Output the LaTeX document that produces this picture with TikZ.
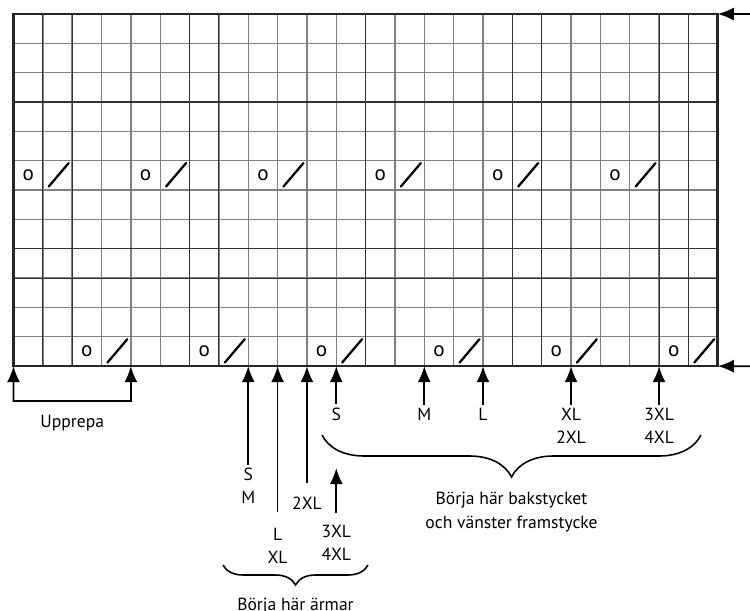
\documentclass[tikz,border=0pt]{standalone}
\usepackage{fontspec}
\setmainfont{PT Sans}
\usetikzlibrary{arrows.meta, positioning, decorations.pathreplacing}
\tikzstyle{gridline} = [line width=0.8pt, draw=black!50]
\tikzstyle{darkline} = [line width=0.65pt, draw=black!80]
\tikzstyle{frame} = [line width=1.5pt, draw=black!85]
\tikzstyle{yarnover} = [inner sep=0pt, font=\fontsize{12}{12}\selectfont]
\tikzstyle{decrease} = [line width=1.3pt, line cap=round]
\tikzstyle{sizelabel} = [align=center, inner sep=2pt, font=\fontsize{10}{13}\selectfont]
\tikzstyle{note} = [align=center, inner sep=2pt, anchor=north, font=\fontsize{10}{13.5}\selectfont]
\tikzstyle{arrow} = [line width=1pt, ->, >={Latex[length=3.2mm, width=2.6mm]}]
\tikzstyle{bracket} = [line width=0.9pt, decorate, decoration={brace, amplitude=#1}]

\begin{document}
\begin{tikzpicture}[x=0.02cm, y=-0.02cm]
    \useasboundingbox (0,0) rectangle (750,611);

    % chart, in cell units
    \begin{scope}[shift={(13.5,14)}, x=0.587cm, y=-0.587cm]
        \foreach \k in {1,...,23}
            \draw[gridline] (\k,0) -- (\k,12);
        \foreach \k in {1,...,11}
            \draw[gridline] (0,\k) -- (24,\k);
        \foreach \k in {1,2,6,7,12,17,18,22,23}
            \draw[darkline] (\k,0) -- (\k,12);
        \foreach \k in {3,8,9}
            \draw[darkline] (0,\k) -- (24,\k);
        \draw[frame] (0,0) rectangle (24,12);

        \foreach \k in {0,...,5} {
            \node (yo5-\k) [yarnover] at ({4*\k+0.5},5.5) {o};
            \draw[decrease] ({4*\k+1.2},5.88) -- ({4*\k+1.88},5.08);
            \node (yo11-\k) [yarnover] at ({4*\k+2.5},11.5) {o};
            \draw[decrease] ({4*\k+3.2},11.88) -- ({4*\k+3.88},11.08);
        }

        \foreach \k in {0,...,24}
            \coordinate (b\k) at (\k,12);
        \coordinate (topright) at (24,0);
    \end{scope}

    % rows marked on the right
    \coordinate (rtop) at (752,14);
    \coordinate (rbot) at (752,366.2);
    \draw[arrow] (rtop) -- (topright);
    \draw[arrow] (rbot) -- (b24);

    % repeat
    \coordinate (u0) at (13.5,401);
    \coordinate (u4) at (130.9,401);
    \draw[arrow, <->] (b0) -- (u0) -- (u4) -- (b4);
    \node (upprepa) [note] at (72.2,411) {Upprepa};

    % sleeves
    \node (slSM) [sizelabel, below=1.97cm of b8] {S\\M};
    \node (slLXL) [sizelabel, below=3.17cm of b9] {L\\XL};
    \node (sl2XL) [sizelabel, below=2.55cm of b10] {2XL};
    \node (sl3XL) [sizelabel, below=3.11cm of b11] {3XL\\4XL};
    \coordinate (sl3XLtip) at ([yshift=-2.04cm]b11);
    \draw[arrow] (slSM) -- (b8);
    \draw[arrow, shorten <=0.25cm] (slLXL) -- (b9);
    \draw[arrow, shorten <=0.21cm] (sl2XL) -- (b10);
    \draw[arrow, shorten <=0.17cm] (sl3XL) -- (sl3XLtip);
    \draw[bracket=0.4cm] (368,565) -- (223,565);
    \node (armar) [note] at (295.5,594.5) {Börja här ärmar};

    % back and left front
    \node (bkS) [sizelabel, below=0.75cm of b11] {S};
    \node (bkM) [sizelabel, below=0.77cm of b14] {M};
    \node (bkL) [sizelabel, below=0.77cm of b16] {L};
    \node (bkXL) [sizelabel, below=0.77cm of b19] {XL\\2XL};
    \node (bk3XL) [sizelabel, below=0.77cm of b22] {3XL\\4XL};
    \draw[arrow] (bkS) -- (b11);
    \draw[arrow] (bkM) -- (b14);
    \draw[arrow] (bkL) -- (b16);
    \draw[arrow] (bkXL) -- (b19);
    \draw[arrow] (bk3XL) -- (b22);
    \draw[bracket=0.84cm] (701,435) -- (322,435);
    \node (bakstycke) [note] at (511.5,488.5) {Börja här bakstycket\\och vänster framstycke};
\end{tikzpicture}
\end{document}
